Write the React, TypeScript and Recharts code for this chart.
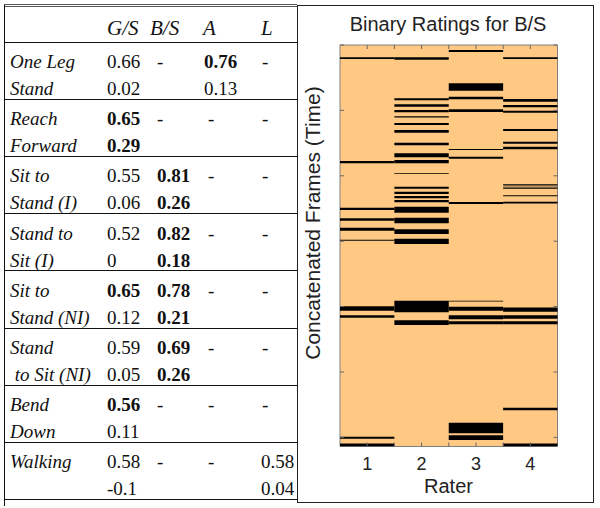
import React from "react";
import { ComposedChart, XAxis, YAxis, ReferenceArea } from "recharts";

// table data
const columns = ["G/S", "B/S", "A", "L"];
const activityTop = ["One Leg", "Reach", "Sit to", "Stand to", "Sit to", "Stand", "Bend", "Walking"];
const activityBottom = ["Stand", "Forward", "Stand (I)", "Sit (I)", "Stand (NI)", " to Sit (NI)", "Down", ""];

const gsTop = ["0.66", "0.65", "0.55", "0.52", "0.65", "0.59", "0.56", "0.58"];
const gsBottom = ["0.02", "0.29", "0.06", "0", "0.12", "0.05", "0.11", "-0.1"];
const gsBoldTop = [false, true, false, false, true, false, true, false];
const gsBoldBottom = [false, true, false, false, false, false, false, false];

const bsTop = ["-", "-", "0.81", "0.82", "0.78", "0.69", "-", "-"];
const bsBottom = ["", "", "0.26", "0.18", "0.21", "0.26", "", ""];
const bsBold = [false, false, true, true, true, true, false, false];

const aTop = ["0.76", "-", "-", "-", "-", "-", "-", "-"];
const aBottom = ["0.13", "", "", "", "", "", "", ""];
const aBoldTop = [true, false, false, false, false, false, false, false];

const lTop = ["-", "-", "-", "-", "-", "-", "-", "0.58"];
const lBottom = ["", "", "", "", "", "", "", "0.04"];

// chart data: frame ranges rated 1 (black) per rater
const raters = [1, 2, 3, 4];
const raterTicks = [1, 1.5, 2, 2.5, 3, 3.5, 4];
const frameTicks = [0, 500, 1000, 1500, 2000, 2500, 3000];
const frameCount = 3070;

const rater1Bands = [
  [94, 107], [887, 905], [1244, 1262], [1325, 1343], [1397, 1420], [1490, 1496],
  [1998, 2032], [2067, 2085], [2995, 3010], [3048, 3068],
];
const rater2Bands = [
  [94, 112], [408, 423], [453, 472], [497, 515], [544, 554], [596, 612], [650, 671],
  [747, 767], [828, 859], [879, 905], [980, 986], [1083, 1099], [1122, 1139],
  [1155, 1172], [1185, 1203], [1236, 1282], [1320, 1363], [1409, 1445], [1481, 1522],
  [1955, 2044], [2105, 2141],
];
const rater3Bands = [
  [38, 54], [293, 349], [395, 415], [492, 512], [796, 803], [854, 869], [1200, 1216],
  [1955, 1961], [2001, 2032], [2067, 2097], [2113, 2136], [2888, 2969], [2984, 3020],
];
const rater4Bands = [
  [94, 107], [413, 434], [459, 476], [502, 518], [642, 658], [739, 755], [778, 797],
  [1065, 1070], [1074, 1079], [1084, 1089], [1094, 1099], [1148, 1156], [1198, 1211],
  [2008, 2039], [2067, 2093], [2113, 2136], [2773, 2793], [3048, 3068],
];
const bandsByRater = [rater1Bands, rater2Bands, rater3Bands, rater4Bands];

const serif = "'Liberation Serif', 'Times New Roman', serif";
const sans = "'Liberation Sans', Arial, sans-serif";

const GROUP_TOP = 42.5;
const GROUP_H = 57.2;
const colX = [107, 157, 204, 261];
const dashX = [107, 157, 208, 262];

function Cell({ x, baseline, text, bold, italic, size = 19 }: { x: number; baseline: number; text: string; bold?: boolean; italic?: boolean; size?: number }) {
  if (!text) return null;
  return (
    <div
      style={{
        position: "absolute",
        left: x,
        top: baseline - size * 0.84,
        fontFamily: serif,
        fontSize: size,
        lineHeight: `${size}px`,
        fontWeight: bold ? "bold" : "normal",
        fontStyle: italic ? "italic" : "normal",
        whiteSpace: "pre",
        color: "#111",
      }}
    >
      {text}
    </div>
  );
}

function ResultsTable() {
  const cells: React.ReactNode[] = [];
  activityTop.forEach((name, i) => {
    const top = GROUP_TOP + i * GROUP_H;
    const b1 = top + 25.5;
    const b2 = top + 52.5;
    cells.push(<Cell key={`n1-${i}`} x={10} baseline={b1} text={name} italic />);
    cells.push(<Cell key={`n2-${i}`} x={10} baseline={b2} text={activityBottom[i]} italic />);
    const tops = [gsTop[i], bsTop[i], aTop[i], lTop[i]];
    const bottoms = [gsBottom[i], bsBottom[i], aBottom[i], lBottom[i]];
    const boldTop = [gsBoldTop[i], bsBold[i], aBoldTop[i], false];
    const boldBottom = [gsBoldBottom[i], bsBold[i], false, false];
    tops.forEach((t, c) => {
      cells.push(
        <Cell key={`t-${i}-${c}`} x={t === "-" ? dashX[c] : colX[c]} baseline={b1} text={t} bold={boldTop[c]} />
      );
      cells.push(<Cell key={`b-${i}-${c}`} x={colX[c]} baseline={b2} text={bottoms[c]} bold={boldBottom[c]} />);
    });
  });

  const lines = [];
  for (let k = 0; k <= activityTop.length; k++) {
    lines.push(
      <div
        key={`l${k}`}
        style={{ position: "absolute", left: 4, top: Math.round(GROUP_TOP + k * GROUP_H) - 1, width: 293, height: 1, background: "#111" }}
      />
    );
  }

  const headX = [107, 150, 203, 261];
  return (
    <>
      <div style={{ position: "absolute", left: 4, top: 4, width: 293, height: 0, borderTop: "3px double #555" }} />
      <div style={{ position: "absolute", left: 4, top: 5, width: 1, height: 501, background: "#111" }} />
      {lines}
      {columns.map((c, i) => (
        <Cell key={`h${i}`} x={headX[i]} baseline={36} text={c} italic size={21} />
      ))}
      {cells}
    </>
  );
}

const tickColor = "#666";

const TopTick = (props: any) => (
  <line x1={props.x} x2={props.x} y1={props.y} y2={props.y + 4} stroke={tickColor} />
);

const BottomTick = (props: any) => {
  const { x, y, payload } = props;
  return (
    <g>
      <line x1={x} x2={x} y1={y} y2={y - 4} stroke={tickColor} />
      {Number.isInteger(payload.value) && (
        <text x={x} y={y + 23} textAnchor="middle" fontFamily={sans} fontSize={18} fill="#222">
          {payload.value}
        </text>
      )}
    </g>
  );
};

const LeftTick = (props: any) => (
  <line x1={props.x} x2={props.x + 4} y1={props.y} y2={props.y} stroke={tickColor} />
);

const RightTick = (props: any) => (
  <line x1={props.x} x2={props.x - 4} y1={props.y} y2={props.y} stroke={tickColor} />
);

function BinaryRatings() {
  return (
    <ComposedChart
      width={303}
      height={508}
      data={raters.map((r) => ({ rater: r }))}
      margin={{ top: 44, right: 41.5, bottom: 60.5, left: 42 }}
    >
      <XAxis xAxisId="bottom" dataKey="rater" type="number" domain={[0.5, 4.5]} allowDataOverflow ticks={raterTicks}
        interval={0} height={1} tickSize={0} tickMargin={0} tickLine={false} axisLine={false} tick={BottomTick} />
      <XAxis xAxisId="top" orientation="top" dataKey="rater" type="number" domain={[0.5, 4.5]} allowDataOverflow ticks={raterTicks}
        interval={0} height={1} tickSize={0} tickMargin={0} tickLine={false} axisLine={false} tick={TopTick} />
      <YAxis yAxisId="left" type="number" domain={[0, frameCount]} allowDataOverflow reversed ticks={frameTicks}
        interval={0} width={1} tickSize={0} tickMargin={0} tickLine={false} axisLine={false} tick={LeftTick} />
      <YAxis yAxisId="right" orientation="right" type="number" domain={[0, frameCount]} allowDataOverflow reversed ticks={frameTicks}
        interval={0} width={1} tickSize={0} tickMargin={0} tickLine={false} axisLine={false} tick={RightTick} />
      <ReferenceArea xAxisId="bottom" yAxisId="left" x1={0.5} x2={4.5} y1={0} y2={frameCount}
        fill="#FFC983" fillOpacity={1} stroke="#808080" strokeWidth={1} />
      {bandsByRater.map((bands, r) =>
        bands.map(([a, b], k) => (
          <ReferenceArea key={`${r}-${k}`} xAxisId="bottom" yAxisId="left" x1={raters[r] - 0.5} x2={raters[r] + 0.5}
            y1={a} y2={b} fill="#000" fillOpacity={1} stroke="none" />
        ))
      )}
    </ComposedChart>
  );
}

export default function App() {
  return (
    <div style={{ position: "absolute", left: 0, top: 0, width: 600, height: 508, background: "#fff", overflow: "hidden" }}>
      <ResultsTable />
      <div style={{ position: "absolute", left: 297, top: 5, width: 297, height: 498, border: "1px solid #222", boxSizing: "border-box" }} />
      <div style={{ position: "absolute", left: 297, top: 0 }}>
        <BinaryRatings />
      </div>
      <svg width={600} height={508} style={{ position: "absolute", left: 0, top: 0, pointerEvents: "none" }}>
        <text x={448} y={31} textAnchor="middle" fontFamily={sans} fontSize={20} fill="#222">
          Binary Ratings for B/S
        </text>
        <text x={448.5} y={493} textAnchor="middle" fontFamily={sans} fontSize={20} fill="#222">
          Rater
        </text>
        <text transform="translate(320,223) rotate(-90)" textAnchor="middle" fontFamily={sans} fontSize={21} fill="#222">
          Concatenated Frames (Time)
        </text>
      </svg>
    </div>
  );
}
